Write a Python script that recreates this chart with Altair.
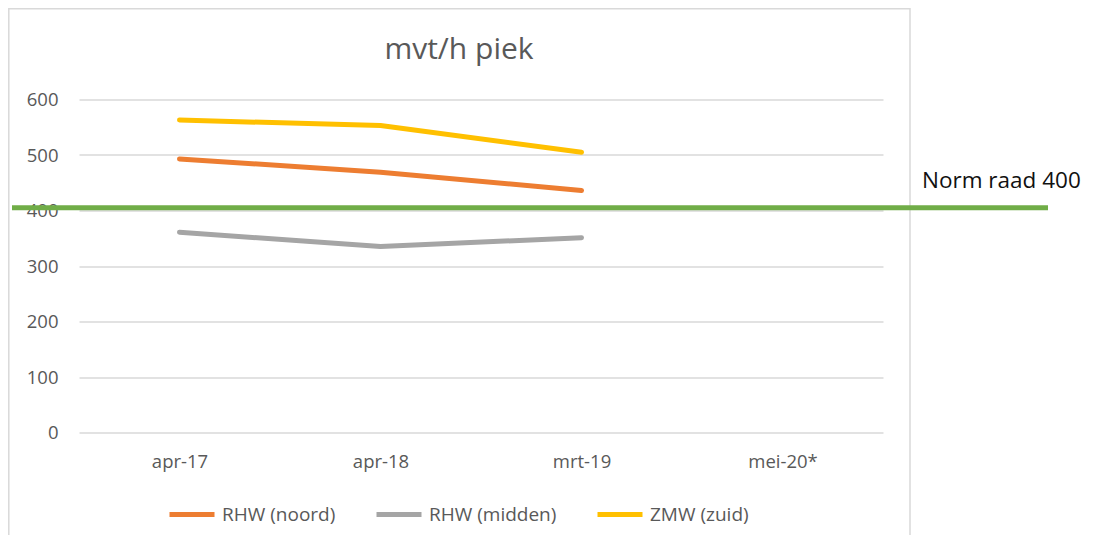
import altair as alt
import pandas as pd

categories = ["apr-17", "apr-18", "mrt-19", "mei-20*"]
series_names = ["RHW (noord)", "RHW (midden)", "ZMW (zuid)"]
rhw_noord = [493, 469, 436, None]
rhw_midden = [361, 335, 351, None]
zmw_zuid = [563, 553, 505, None]
series_colors = ["#ED7D31", "#A5A5A5", "#FFC000"]
y_ticks = [0, 100, 200, 300, 400, 500, 600]
norm_value = [405]
norm_label = ["Norm raad 400"]
title_text = ["mvt/h piek"]

rows = []
for name, vals in zip(series_names, [rhw_noord, rhw_midden, zmw_zuid]):
    for c, v in zip(categories, vals):
        rows.append({"periode": c, "reeks": name, "waarde": v})
df = pd.DataFrame(rows)

FONT = "Open Sans"
W, H = 804, 333

x_enc = alt.X("periode:N", sort=categories,
              scale=alt.Scale(domain=categories),
              axis=alt.Axis(title=None, labelAngle=0, domain=False, ticks=False,
                            grid=False, labelPadding=20, labelFontSize=18.5,
                            labelColor="#595959", labelFont=FONT))
y_enc = alt.Y("waarde:Q",
              scale=alt.Scale(domain=[0, 600], nice=False),
              axis=alt.Axis(title=None, values=y_ticks, domain=False, ticks=False,
                            grid=True, gridColor="#d9d9d9", gridWidth=1.5,
                            labelPadding=21, labelFontSize=18.5,
                            labelColor="#595959", labelFont=FONT))

frame = alt.Chart(pd.DataFrame({"a": [0]})).mark_rect(
    filled=False, stroke="#d9d9d9", strokeWidth=1.5
).encode(x=alt.value(-70.2), x2=alt.value(831), y=alt.value(-90.7), y2=alt.value(520))

lines = alt.Chart(df).mark_line(strokeWidth=5, strokeCap="round", strokeJoin="round").encode(
    x=x_enc,
    y=y_enc,
    color=alt.Color("reeks:N", sort=series_names,
                    scale=alt.Scale(domain=series_names, range=series_colors),
                    legend=alt.Legend(title=None, orient="none", direction="horizontal",
                                      legendX=88, legendY=390,
                                      symbolType="stroke", symbolStrokeWidth=5,
                                      symbolSize=2025, labelFontSize=19,
                                      labelColor="#595959", labelFont=FONT,
                                      columnPadding=30, labelOffset=5)),
)

norm_df = pd.DataFrame({"norm": norm_value, "label": norm_label})
norm_rule = alt.Chart(norm_df).mark_rule(color="#70AD47", strokeWidth=5).encode(
    y=alt.Y("norm:Q"), x=alt.value(-67), x2=alt.value(969)
)
norm_text = alt.Chart(norm_df).mark_text(
    align="left", baseline="alphabetic", fontSize=22.5, font=FONT, color="#111111"
).encode(text="label:N", x=alt.value(843), y=alt.value(88.8))

title = alt.Chart(pd.DataFrame({"t": title_text})).mark_text(
    align="center", baseline="alphabetic", fontSize=30, font=FONT, color="#595959"
).encode(text="t:N", x=alt.value(380), y=alt.value(-40.2))

chart = alt.layer(frame, lines, norm_rule, norm_text, title).properties(
    width=W, height=H,
    autosize=alt.AutoSizeParams(type="none"),
    padding={"left": 71, "top": 91.5, "right": 1078 - 71 - W, "bottom": 527 - 91.5 - H},
).configure_view(stroke=None)

chart.save("out.html", embed_options={"renderer": "svg", "actions": False})
